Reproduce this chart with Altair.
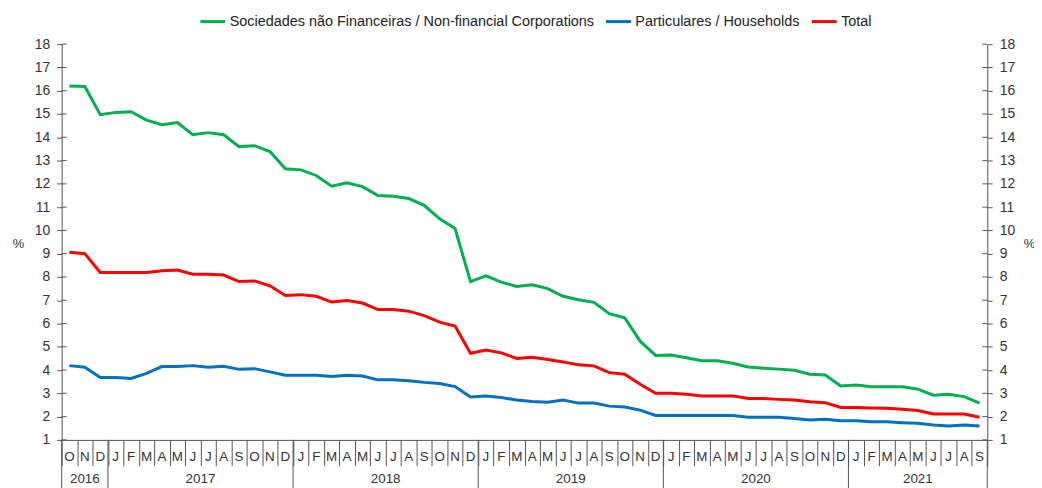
import altair as alt
import pandas as pd

FONT = "Liberation Sans"

month_labels = (["O", "N", "D"]
                + ["J", "F", "M", "A", "M", "J", "J", "A", "S", "O", "N", "D"] * 4
                + ["J", "F", "M", "A", "M", "J", "J", "A", "S"])

years = ["2016", "2017", "2018", "2019", "2020", "2021"]
year_start = [0, 3, 15, 27, 39, 51]
year_end = [3, 15, 27, 39, 51, 60]

series_names = [
    "Sociedades não Financeiras / Non-financial Corporations",
    "Particulares / Households",
    "Total",
]
series_colors = ["#00B050", "#0070C0", "#FF0000"]

nfc = [16.2, 16.18, 14.97,
       15.07, 15.1, 14.74, 14.54, 14.63, 14.11, 14.2, 14.11, 13.6, 13.64, 13.39, 12.65,
       12.6, 12.36, 11.9, 12.05, 11.88, 11.5, 11.47, 11.37, 11.08, 10.5, 10.08, 7.8,
       8.05, 7.78, 7.59, 7.66, 7.5, 7.17, 7.02, 6.91, 6.42, 6.24, 5.24, 4.63,
       4.65, 4.53, 4.4, 4.4, 4.29, 4.13, 4.08, 4.04, 3.99, 3.82, 3.79, 3.32,
       3.36, 3.28, 3.28, 3.28, 3.18, 2.92, 2.96, 2.86, 2.58]

households = [4.19, 4.12, 3.68,
              3.68, 3.64, 3.86, 4.15, 4.15, 4.19, 4.12, 4.16, 4.03, 4.06, 3.92, 3.78,
              3.78, 3.78, 3.72, 3.78, 3.74, 3.58, 3.58, 3.54, 3.47, 3.42, 3.29, 2.84,
              2.88, 2.82, 2.71, 2.65, 2.62, 2.71, 2.58, 2.58, 2.45, 2.41, 2.28, 2.05,
              2.05, 2.05, 2.05, 2.05, 2.05, 1.97, 1.97, 1.97, 1.92, 1.85, 1.89, 1.82,
              1.82, 1.78, 1.78, 1.74, 1.71, 1.64, 1.6, 1.64, 1.6]

total = [9.06, 9.0, 8.19,
         8.19, 8.19, 8.19, 8.27, 8.3, 8.12, 8.12, 8.08, 7.8, 7.83, 7.62, 7.2,
         7.24, 7.17, 6.92, 6.99, 6.88, 6.6, 6.6, 6.53, 6.34, 6.06, 5.89, 4.72,
         4.86, 4.74, 4.5, 4.55, 4.45, 4.35, 4.23, 4.18, 3.89, 3.82, 3.39, 3.0,
         3.0, 2.96, 2.89, 2.89, 2.89, 2.78, 2.78, 2.74, 2.71, 2.64, 2.6, 2.39,
         2.39, 2.37, 2.36, 2.32, 2.26, 2.11, 2.11, 2.11, 1.97]

y_ticks = list(range(1, 19))

W, H = 931, 398
AXIS_COLOR = "#555555"
LABEL_COLOR = "#333333"

rows = []
for name, vals in zip(series_names, [nfc, households, total]):
    for i, v in enumerate(vals):
        rows.append({"pos": i + 0.5, "value": v, "series": name})
df = pd.DataFrame(rows)

df_months = pd.DataFrame({"pos": [i + 0.5 for i in range(len(month_labels))],
                          "label": month_labels})
df_years = pd.DataFrame({"year": years, "start": year_start, "end": year_end})
df_years["mid"] = (df_years["start"] + df_years["end"]) / 2
df_bounds = pd.DataFrame({"pos": sorted(set(year_start + year_end))})
df_yt = pd.DataFrame({"v": y_ticks})

xscale = alt.Scale(domain=[0, 60], nice=False, zero=False)
yscale = alt.Scale(domain=[1, 18], nice=False, zero=False)

x_axis = alt.Axis(values=list(range(61)), tickSize=26, labels=False, title=None,
                  grid=False, domainColor=AXIS_COLOR, tickColor=AXIS_COLOR,
                  domainWidth=1, tickWidth=1)


def xenc(field):
    return alt.X(field, type="quantitative", scale=xscale, axis=x_axis, title=None)


lines = alt.Chart(df).mark_line(strokeWidth=3).encode(
    x=xenc("pos"),
    y=alt.Y("value:Q", scale=yscale,
            axis=alt.Axis(orient="left", values=y_ticks, tickSize=5, labelPadding=7,
                          grid=False, domainColor=AXIS_COLOR, tickColor=AXIS_COLOR,
                          labelColor=LABEL_COLOR, labelFont=FONT, labelFontSize=14,
                          title="%", titleAngle=0, titleX=-44, titleY=200,
                          titleFont=FONT, titleFontSize=13, titleFontWeight="normal",
                          titleColor=LABEL_COLOR, titleAlign="center",
                          titleBaseline="middle")),
    color=alt.Color("series:N",
                    scale=alt.Scale(domain=series_names, range=series_colors),
                    legend=alt.Legend(orient="none", legendX=138, legendY=-37,
                                      direction="horizontal", columns=3, title=None,
                                      symbolType="stroke", symbolStrokeWidth=3,
                                      symbolSize=625, labelFont=FONT, labelFontSize=14.5,
                                      labelColor="#222222", labelLimit=700,
                                      columnPadding=5, labelOffset=3)),
    order=alt.Order("pos:Q"),
)

left_inner = alt.Chart(df_yt).mark_rule(color=AXIS_COLOR, strokeWidth=1).encode(
    y=alt.Y("v:Q", scale=yscale, axis=None),
    x=alt.value(0), x2=alt.value(5),
)

right_ticks = alt.Chart(df_yt).mark_rule(color=AXIS_COLOR, strokeWidth=1).encode(
    y=alt.Y("v:Q", scale=yscale,
            axis=alt.Axis(orient="right", values=y_ticks, tickSize=5, labelPadding=7,
                          grid=False, domainColor=AXIS_COLOR, tickColor=AXIS_COLOR,
                          labelColor=LABEL_COLOR, labelFont=FONT, labelFontSize=14,
                          title="%", titleAngle=0, titleX=42, titleY=200,
                          titleFont=FONT, titleFontSize=13, titleFontWeight="normal",
                          titleColor=LABEL_COLOR, titleAlign="center",
                          titleBaseline="middle")),
    x=alt.value(W - 5), x2=alt.value(W),
)

month_text = alt.Chart(df_months).mark_text(
    font=FONT, fontSize=13.5, color=LABEL_COLOR, baseline="middle", align="center"
).encode(
    x=xenc("pos"),
    y=alt.value(415),
    text="label:N",
)

year_rules = alt.Chart(df_bounds).mark_rule(color=AXIS_COLOR, strokeWidth=1).encode(
    x=xenc("pos"),
    y=alt.value(H), y2=alt.value(H + 60),
)

year_text = alt.Chart(df_years).mark_text(
    font=FONT, fontSize=13.5, color=LABEL_COLOR, baseline="middle", align="center"
).encode(
    x=xenc("mid"),
    y=alt.value(437),
    text="year:N",
)

chart = alt.layer(
    year_rules, month_text, year_text, left_inner, lines, right_ticks
).resolve_scale(y="independent").properties(
    width=W, height=H,
    autosize=alt.AutoSizeParams(type="none"),
    padding={"left": 54, "top": 35, "right": 47, "bottom": 47},
    background="white",
).configure_view(stroke=None)

chart.save("out.html", embed_options={"renderer": "svg", "actions": False})
